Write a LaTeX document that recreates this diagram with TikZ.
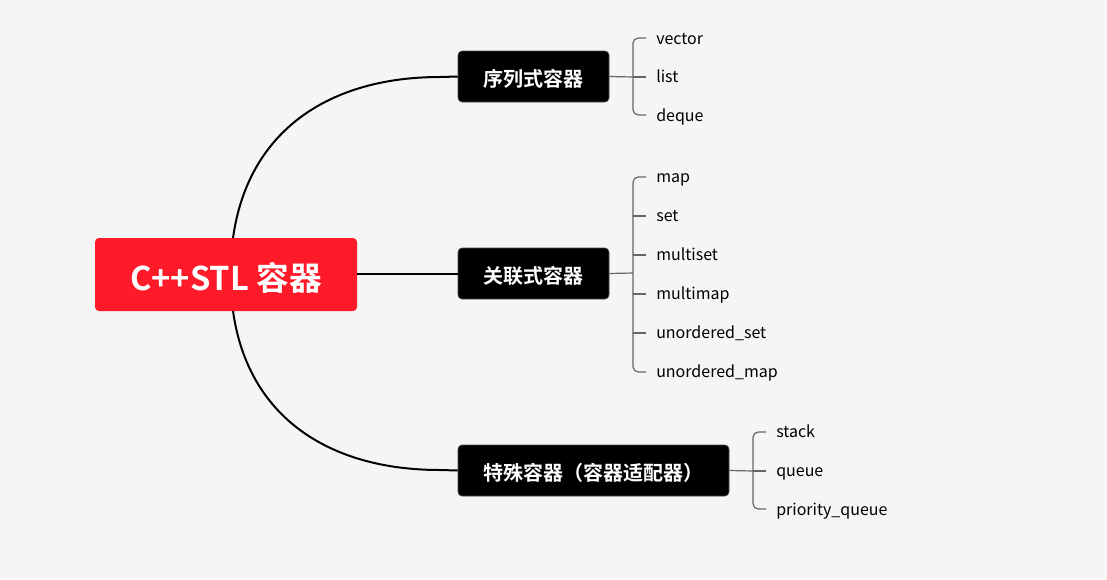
\documentclass[tikz,border=0pt]{standalone}
\usepackage{fontspec}
\setmainfont{Noto Sans CJK SC}
\newfontfamily\cjkb{Noto Sans CJK SC Bold}
\definecolor{bg}{HTML}{F5F5F5}
\definecolor{rootred}{HTML}{FF1A2A}
\definecolor{brk}{HTML}{666666}
\begin{document}
\begin{tikzpicture}[x=0.75pt,y=-0.75pt,
  rootbox/.style={fill=rootred,rounded corners=3pt,text=white,font=\cjkb\fontsize{24.5}{28}\selectfont,inner sep=0pt,text height=24pt,text depth=0.2pt},
  catbox/.style={fill=black,draw=black!70,rounded corners=3pt,text=white,font=\cjkb\fontsize{15}{18}\selectfont,inner sep=0pt,text height=16pt,text depth=0.3pt},
  leaf/.style={anchor=west,font=\fontsize{12}{14}\selectfont,inner sep=0pt,text=black,text height=9pt,text depth=1pt},
  trunk/.style={draw=black,line width=1.5pt},
  brace/.style={draw=brk,line width=0.9pt,rounded corners=4pt}]
\fill[bg] (0,0) rectangle (1107,579);
\useasboundingbox (0,0) rectangle (1107,579);
% root
\node[rootbox,minimum width=262*0.75pt,minimum height=73*0.75pt] (root) at (226,274.5) {C++STL 容器};
% categories
\node[catbox,minimum width=151*0.75pt,minimum height=51*0.75pt] (seq) at (533.5,76.5) {序列式容器};
\node[catbox,minimum width=151*0.75pt,minimum height=51*0.75pt] (assoc) at (533.5,273.5) {关联式容器};
\node[catbox,minimum width=271*0.75pt,minimum height=51*0.75pt,text width=221*0.75pt,align=left] (spec) at (593.5,470.5) {特殊容器（容器适配器）};
% trunk connectors
\coordinate (rt) at (233,238);
\coordinate (rb) at (233,311);
\draw[trunk] (rt) .. controls (248,130) and (330,77) .. (440,77) -- (seq.west);
\draw[trunk] (rb) .. controls (248,418) and (330,470) .. (440,470) -- (spec.west);
\draw[trunk] (root.east |- assoc.west) -- (assoc.west);
% leaves seq
\node[leaf] (v) at (656,39) {vector};
\node[leaf] (l) at (656,77) {list};
\node[leaf] (d) at (656,116) {deque};
\coordinate (sj) at (633,77);
\draw[brace] (seq.east) -- (sj);
\draw[brace] (646,38) -- (633,38) -- (633,115) -- (646,115);
\draw[brace] (sj) -- (646,77);
% leaves assoc
\node[leaf] (m1) at (656,177) {map};
\node[leaf] (m2) at (656,216) {set};
\node[leaf] (m3) at (656,255) {multiset};
\node[leaf] (m4) at (656,294) {multimap};
\node[leaf] (m5) at (656,333) {unordered\_set};
\node[leaf] (m6) at (656,372) {unordered\_map};
\coordinate (aj) at (633,273);
\draw[brace] (assoc.east) -- (aj);
\draw[brace] (646,177) -- (633,177) -- (633,372) -- (646,372);
\foreach \y in {216,255,294,333} \draw[brace] (633,\y) -- (646,\y);
% leaves spec
\node[leaf] (s1) at (776,432) {stack};
\node[leaf] (s2) at (776,471) {queue};
\node[leaf] (s3) at (776,510) {priority\_queue};
\coordinate (pj) at (753,471);
\draw[brace] (spec.east) -- (pj);
\draw[brace] (766,432) -- (753,432) -- (753,509) -- (766,509);
\draw[brace] (pj) -- (766,471);
\end{tikzpicture}
\end{document}
